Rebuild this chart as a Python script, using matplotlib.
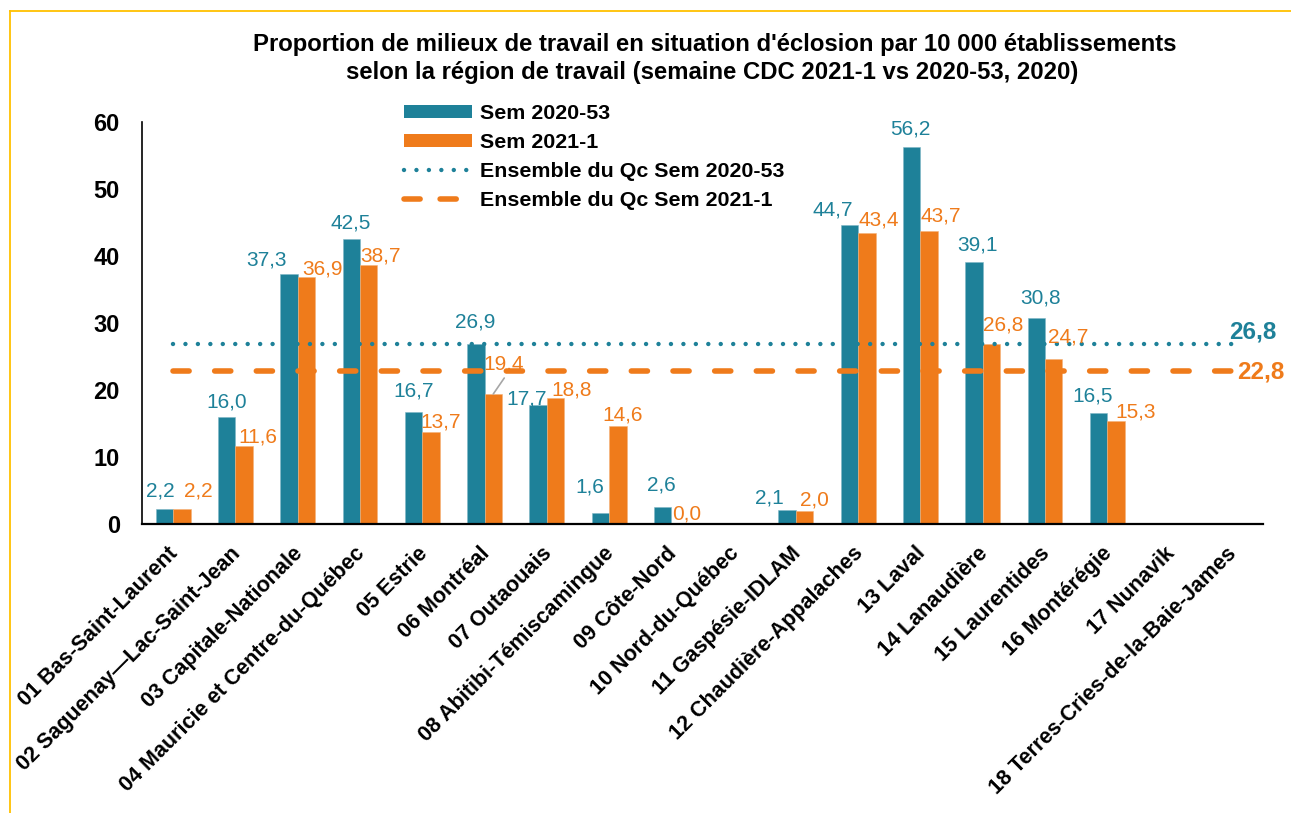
import matplotlib
matplotlib.use('Agg')
import matplotlib.pyplot as plt
import numpy as np
from matplotlib.lines import Line2D
from matplotlib.patches import Patch
import matplotlib.transforms as mtransforms

plt.rcParams['font.family'] = ['Liberation Sans', 'DejaVu Sans']

# ---------------- data ----------------
regions = [
    "01 Bas-Saint-Laurent",
    "02 Saguenay\u2014Lac-Saint-Jean",
    "03 Capitale-Nationale",
    "04 Mauricie et Centre-du-Québec",
    "05 Estrie",
    "06 Montréal",
    "07 Outaouais",
    "08 Abitibi-Témiscamingue",
    "09 Côte-Nord",
    "10 Nord-du-Québec",
    "11 Gaspésie-IDLAM",
    "12 Chaudière-Appalaches",
    "13 Laval",
    "14 Lanaudière",
    "15 Laurentides",
    "16 Montérégie",
    "17 Nunavik",
    "18 Terres-Cries-de-la-Baie-James",
]
sem_2020_53 = [2.2, 16.0, 37.3, 42.5, 16.7, 26.9, 17.7, 1.6, 2.6, None,
               2.1, 44.7, 56.2, 39.1, 30.8, 16.5, None, None]
sem_2021_1 = [2.2, 11.6, 36.9, 38.7, 13.7, 19.4, 18.8, 14.6, 0.0, None,
              2.0, 43.4, 43.7, 26.8, 24.7, 15.3, None, None]
qc_2020_53 = 26.8
qc_2021_1 = 22.8
series_names = ["Sem 2020-53", "Sem 2021-1",
                "Ensemble du Qc Sem 2020-53", "Ensemble du Qc Sem 2021-1"]
title_lines = [
    "Proportion de milieux de travail en situation d'éclosion par 10 000 établissements",
    "selon la région de travail (semaine CDC 2021-1 vs 2020-53, 2020)",
]

# ---------------- style ----------------
TEAL = "#1E8199"
ORANGE = "#EF7B1B"
GOLD = "#FFC000"
W, H, DPI = 1291, 813, 100

# label offsets (pixels: dx right, dy down) of label centre relative to bar top centre
teal_off = [(-4, -20), (0, -17), (-22, -16), (-1, -18), (0, -23), (-1, -24),
            (-11, -8), (-11, -28), (-1, -24), None, (-18, -14), (-17, -17),
            (-1, -20), (3, -19), (4, -22), (-6, -19), None, None]
orange_off = [(16, -20), (14, -11), (16, -10), (12, -11), (10, -12), (10, -32),
              (16, -10), (5, -13), (7, -12), None, (10, -13), (12, -15),
              (12, -17), (12, -21), (14, -24), (20, -11), None, None]


def to_arr(vals):
    return np.array([np.nan if v is None else v for v in vals], dtype=float)


def fmt(v):
    return f"{v:.1f}".replace('.', ',')


v1 = to_arr(sem_2020_53)
v2 = to_arr(sem_2021_1)
x = np.arange(len(regions))

fig = plt.figure(figsize=(W / DPI, H / DPI), dpi=DPI)
fig.patch.set_facecolor('white')

left_px, right_px, top_px, bot_px = 142, 1263, 122, 524
ax = fig.add_axes([left_px / W, 1 - bot_px / H,
                   (right_px - left_px) / W, (bot_px - top_px) / H])

bw = 0.28
ax.bar(x - bw / 2, v1, width=bw, color=TEAL, edgecolor='#7FB7C6',
       linewidth=0.4, zorder=2)
ax.bar(x + bw / 2, v2, width=bw, color=ORANGE, edgecolor='#F5B27A',
       linewidth=0.4, zorder=2)

# reference lines
dot_lw = 3.2
l1, = ax.plot(x, [qc_2020_53] * len(x), color=TEAL, lw=dot_lw,
              linestyle=(0, (0.001, 2.8)), dash_capstyle='round', zorder=3)
dash_lw = 4.0
l2, = ax.plot(x, [qc_2021_1] * len(x), color=ORANGE, lw=dash_lw,
              linestyle=(0, (2.9, 4.6)), dash_capstyle='round', zorder=3)

ax.set_xlim(-0.5, len(x) - 0.5)
ax.set_ylim(0, 60)
ax.set_yticks(np.arange(0, 61, 10))

# data labels
LBL = 15
cap_half = 7.5
for i in range(len(x)):
    if not np.isnan(v1[i]) and teal_off[i] is not None:
        dx, dy = teal_off[i]
        ax.annotate(fmt(v1[i]), xy=(x[i] - bw / 2, v1[i]),
                    xytext=(dx, -(dy + cap_half)), textcoords='offset pixels',
                    ha='center', va='baseline', color=TEAL, fontsize=LBL,
                    zorder=4)
    if not np.isnan(v2[i]) and orange_off[i] is not None:
        dx, dy = orange_off[i]
        ax.annotate(fmt(v2[i]), xy=(x[i] + bw / 2, v2[i]),
                    xytext=(dx, -(dy + cap_half)), textcoords='offset pixels',
                    ha='center', va='baseline', color=ORANGE, fontsize=LBL,
                    zorder=4)

# leader line for Montréal 2021-1 label
ax.annotate('', xy=(x[5] + bw / 2, v2[5]), xytext=(11, 16),
            textcoords='offset pixels',
            arrowprops=dict(arrowstyle='-', color='#A6A6A6', lw=1.2,
                            shrinkA=0, shrinkB=0))

# end labels for reference lines
ax.annotate(fmt(qc_2020_53), xy=(x[-1], qc_2020_53), xytext=(-3, 12),
            textcoords='offset pixels', ha='left', va='center',
            color=TEAL, fontsize=17.5, fontweight='bold', zorder=4,
            annotation_clip=False)
ax.annotate(fmt(qc_2021_1), xy=(x[-1], qc_2021_1), xytext=(5, -1),
            textcoords='offset pixels', ha='left', va='center',
            color=ORANGE, fontsize=17.5, fontweight='bold', zorder=4,
            annotation_clip=False)

# axes styling
for s in ['top', 'right']:
    ax.spines[s].set_visible(False)
ax.spines['left'].set_linewidth(1.2)
ax.spines['bottom'].set_linewidth(1.6)
ax.spines['left'].set_color('black')
ax.spines['bottom'].set_color('black')
ax.tick_params(axis='y', length=0, pad=16, labelsize=17)
for t in ax.get_yticklabels():
    t.set_fontweight('bold')

ax.set_xticks(x)
ax.set_xticklabels(regions, rotation=45, ha='right', va='center',
                   rotation_mode='anchor', fontsize=15.5, fontweight='bold')
ax.tick_params(axis='x', length=0, pad=19)
offset = mtransforms.ScaledTranslation(2 / DPI, 0, fig.dpi_scale_trans)
for t in ax.get_xticklabels():
    t.set_transform(t.get_transform() + offset)

# legend
handles = [
    Patch(facecolor=TEAL, edgecolor='none'),
    Patch(facecolor=ORANGE, edgecolor='none'),
    Line2D([], [], color=TEAL, lw=dot_lw, linestyle=(0, (0.001, 2.8)),
           dash_capstyle='round'),
    Line2D([], [], color=ORANGE, lw=dash_lw, linestyle=(0, (2.9, 3.6)),
           dash_capstyle='round'),
]
leg = ax.legend(handles, series_names, loc='upper left',
                bbox_to_anchor=(404 / W, 1 - 104 / H),
                bbox_transform=fig.transFigure, frameon=False,
                borderpad=0, borderaxespad=0, handlelength=3.18,
                handleheight=0.6, handletextpad=0.37, labelspacing=0.47,
                prop={'size': 15.4, 'weight': 'bold'})

# title
fig.text(715 / W, 1 - 44 / H, title_lines[0], ha='center', va='center',
         fontsize=17.2, fontweight='bold')
fig.text(712 / W, 1 - 72 / H, title_lines[1], ha='center', va='center',
         fontsize=17.2, fontweight='bold')

# golden frame (left and top edges)
fig.add_artist(Line2D([9.5 / W, 9.5 / W], [0, 1 - 11 / H],
                      transform=fig.transFigure, color=GOLD, lw=1.3))
fig.add_artist(Line2D([9.5 / W, 1], [1 - 11 / H, 1 - 11 / H],
                      transform=fig.transFigure, color=GOLD, lw=1.3))

fig.savefig('out.png', dpi=DPI)
